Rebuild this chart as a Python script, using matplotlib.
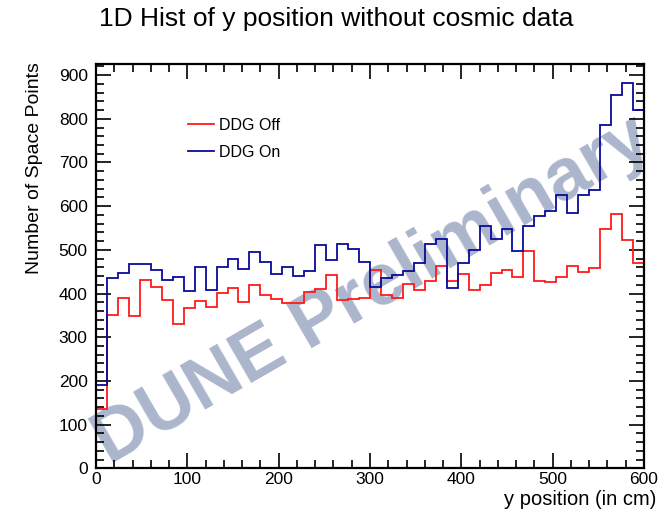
import matplotlib
matplotlib.use("Agg")
import matplotlib.pyplot as plt
from matplotlib.ticker import MultipleLocator
import numpy as np

plt.rcParams['font.family'] = ['Liberation Sans', 'DejaVu Sans']

# 50 bins of 12 cm between 0 and 600
edges = np.linspace(0, 600, 51)

ddg_off = [135, 350, 389, 349, 432, 414, 385, 330, 366, 384,
           370, 402, 412, 381, 419, 397, 387, 379, 379, 403,
           411, 442, 386, 388, 390, 453, 396, 390, 422, 407,
           428, 464, 428, 445, 409, 420, 448, 455, 438, 497,
           428, 426, 439, 463, 449, 458, 548, 581, 523, 470]

ddg_on = [190, 436, 447, 467, 467, 455, 432, 438, 406, 461,
          409, 461, 480, 456, 496, 473, 445, 461, 440, 451,
          512, 476, 514, 501, 472, 416, 435, 443, 451, 470,
          514, 525, 413, 470, 499, 554, 525, 548, 498, 554,
          577, 590, 626, 585, 626, 638, 786, 855, 882, 819]

labels = ["DDG Off", "DDG On"]
colors = ["#ff1a1a", "#0a0a9a"]

fig = plt.figure(figsize=(6.69, 5.11), dpi=100)
ax = fig.add_axes([0.1435, 0.0835, 0.8191, 0.7918])

# watermark behind the histograms
ax.text(0.505, 0.44, "DUNE Preliminary", transform=ax.transAxes,
        fontsize=53, fontweight='bold', color='#abb5cc',
        rotation=30, ha='center', va='center', zorder=0)

for vals, lab, col in zip([ddg_off, ddg_on], labels, colors):
    ax.stairs(vals, edges, baseline=0, color=col, linewidth=1.3,
              label=lab, zorder=2)

ax.set_xlim(0, 600)
ax.set_ylim(0, 926)

ax.xaxis.set_major_locator(MultipleLocator(100))
ax.xaxis.set_minor_locator(MultipleLocator(20))
ax.yaxis.set_major_locator(MultipleLocator(100))
ax.yaxis.set_minor_locator(MultipleLocator(20))
ax.tick_params(which='both', direction='in', top=True, right=True,
               labelsize=12.5, width=1.2)
ax.tick_params(which='major', length=10.5)
ax.tick_params(which='minor', length=5.5)
ax.tick_params(axis='x', pad=3)
ax.tick_params(axis='y', pad=6)
for s in ax.spines.values():
    s.set_linewidth(1.6)
    s.set_zorder(3)

fig.text(0.503, 0.963, "1D Hist of y position without cosmic data",
         ha='center', va='center', fontsize=19)
fig.text(0.981, 0.022, "y position (in cm)", ha='right', va='center',
         fontsize=14.5)
fig.text(0.052, 0.879, "Number of Space Points", ha='center', va='top',
         rotation=90, fontsize=14)

ax.legend(loc='upper left', bbox_to_anchor=(188 / 669, 1 - 118 / 511),
          bbox_transform=fig.transFigure, frameon=False, fontsize=11.5,
          handlelength=1.6, handletextpad=0.35, labelspacing=0.75,
          borderpad=0, borderaxespad=0)

fig.savefig("out.png", dpi=100)
